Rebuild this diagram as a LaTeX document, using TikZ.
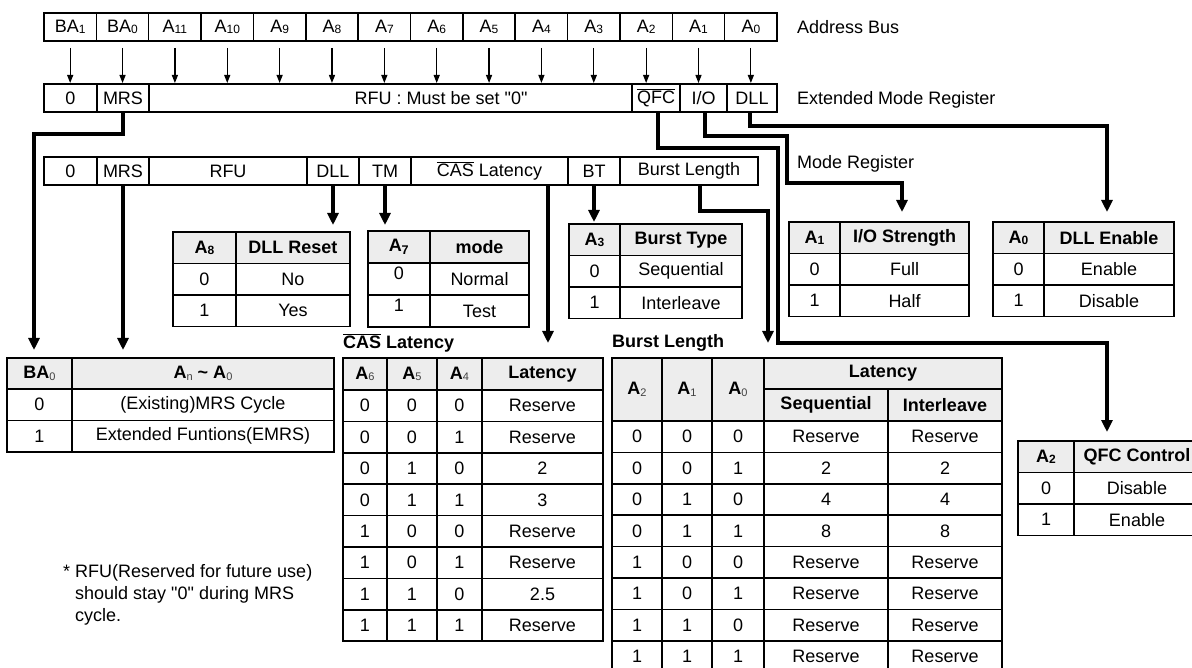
\documentclass[tikz,border=0pt]{standalone}
\usepackage{fontspec}
\setmainfont{Liberation Sans}
\usetikzlibrary{arrows.meta,positioning,calc}
\definecolor{hdrgray}{gray}{0.93}
\newcommand{\sbn}[1]{\raisebox{-1pt}{\fontsize{12}{12}\selectfont #1}}
\newcommand{\hsb}[1]{\raisebox{-1.5pt}{\fontsize{12}{12}\selectfont\bfseries #1}}
\newcommand{\lsb}[1]{\raisebox{-1.5pt}{\fontsize{11}{11}\selectfont\mdseries\color{black!75}#1}}
\newcommand{\ovl}[1]{$\overline{\mbox{#1}}$}
\tikzset{
  txt/.style={font=\fontsize{18}{20}\selectfont},
  regcell/.style={txt,draw,line width=1.5pt,anchor=north west,inner sep=0pt,outer sep=0pt,minimum height=28pt},
  tcell/.style={txt,draw,line width=1.5pt,anchor=north west,inner sep=0pt,outer sep=0pt},
  thead/.style={tcell,fill=hdrgray,font=\fontsize{18}{20}\selectfont\bfseries},
  busarr/.style={line width=1.2pt,-{Triangle[width=6pt,length=8pt]}},
  conn/.style={line width=4pt,line join=miter,-{Triangle[width=11pt,length=12pt]}},
  sidelab/.style={txt,anchor=west,inner sep=0pt},
}
\begin{document}
\begin{tikzpicture}[x=1pt,y=-1pt]
\useasboundingbox (0,0) rectangle (1192,668);
% address bus
\foreach \lab [count=\i from 0] in {BA\sbn1,BA\sbn0,A\sbn{11},A\sbn{10},A\sbn9,A\sbn8,A\sbn7,A\sbn6,A\sbn5,A\sbn4,A\sbn3,A\sbn2,A\sbn1,A\sbn0}
  \node[regcell,minimum width=52.36pt] (ab\i) at ({44+52.36*\i},13) {\lab};
% extended mode register
\foreach \x/\w/\lab [count=\i from 0] in {44/53/0,97/52/MRS,149/483/,632/48/\ovl{QFC},680/47/{I/O},727/50/DLL}
  \node[regcell,minimum width=\w] (em\i) at (\x,84) {\lab};
\node[txt,inner sep=0pt] (emrfu) at (441,98) {RFU : Must be set \textquotedbl 0\textquotedbl};
\foreach \i in {0,...,13}
  \draw[busarr] ([yshift=-7pt]ab\i.south) -- ([yshift=1pt]ab\i.south |- em0.north);
% mode register
\foreach \x/\w/\lab [count=\i from 0] in {44/53/0,97/52/MRS,149/158/RFU,307/52/DLL,359/52/TM,411/157/\ovl{CAS} Latency,568/52/BT,620/138/Burst Length}
  \node[regcell,minimum width=\w] (mr\i) at (\x,157) {\lab};
\node[sidelab] (abl) at (797,27) {Address Bus};
\node[sidelab] (eml) at (797,100) {Extended Mode Register};
\node[sidelab] (mrl) at (797,164) {Mode Register};

% BA0 table
\node[thead,minimum width=65pt,minimum height=31pt] (bah0) at (7,358) {BA\lsb0};
\node[thead,minimum width=262pt,minimum height=31pt] (bah1) at (72,358) {A\lsb{n} \textasciitilde{} A\lsb0};
\foreach \va/\vb [count=\rw] in {0/{(Existing)MRS Cycle},1/{Extended Funtions(EMRS)}}{
  \node[tcell,minimum width=65pt,minimum height=31.5pt] (ba-\rw-0) at (7,{389+31.5*(\rw-1)}) {\va};
  \node[tcell,minimum width=262pt,minimum height=31.5pt] (ba-\rw-1) at (72,{389+31.5*(\rw-1)}) {\vb};
}

% small two-column tables
\foreach \nm/\xa/\xb/\xc/\ya/\hA/\hB/\vA/\vB in {dlr/173/236/350/232/A\hsb8/DLL Reset/No/Yes,
    bt/569/620/742/224/A\hsb3/Burst Type/Sequential/Interleave,
    ios/789/840/969/222/A\hsb1/{I/O Strength}/Full/Half,
    dle/993/1044/1174/222/A\hsb0/DLL Enable/Enable/Disable,
    qfc/1018/1074/1200/441/A\hsb2/QFC Control/Disable/Enable}{
  \node[thead,minimum width={\xb-\xa},minimum height=31.5pt] (\nm-h0) at (\xa,\ya) {\hA};
  \node[thead,minimum width={\xc-\xb},minimum height=31.5pt] (\nm-h1) at (\xb,\ya) {\hB};
  \node[tcell,minimum width={\xb-\xa},minimum height=31.5pt] (\nm-1-0) at (\xa,{\ya+31.5}) {0};
  \node[tcell,minimum width={\xc-\xb},minimum height=31.5pt] (\nm-1-1) at (\xb,{\ya+31.5}) {\vA};
  \node[tcell,minimum width={\xb-\xa},minimum height=31.5pt] (\nm-2-0) at (\xa,{\ya+63}) {1};
  \node[tcell,minimum width={\xc-\xb},minimum height=31.5pt] (\nm-2-1) at (\xb,{\ya+63}) {\vB};
}
% test mode table
\node[thead,minimum width=62pt,minimum height=32pt] (mod-h0) at (368,231) {A\textsubscript{7}};
\node[thead,minimum width=99pt,minimum height=32pt] (mod-h1) at (430,231) {mode};
\node[tcell,minimum width=62pt,minimum height=32pt,label={[txt,yshift=6pt]center:0}] (mod-1-0) at (368,263) {};
\node[tcell,minimum width=99pt,minimum height=32pt] (mod-1-1) at (430,263) {Normal};
\node[tcell,minimum width=62pt,minimum height=32pt,label={[txt,yshift=6pt]center:1}] (mod-2-0) at (368,295) {};
\node[tcell,minimum width=99pt,minimum height=32pt] (mod-2-1) at (430,295) {Test};

% CAS latency table
\node[txt,font=\fontsize{18}{20}\selectfont\bfseries,anchor=west,inner sep=0pt] (castitle) at (343,343) {\ovl{CAS} Latency};
\foreach \x/\w/\lab [count=\i from 0] in {343/44/A\lsb6,387/50/A\lsb5,437/45/A\lsb4,482/121/Latency}
  \node[thead,minimum width=\w,minimum height=32pt] (cas-h\i) at (\x,358) {\lab};
\foreach \va/\vb/\vc/\lat [count=\rw] in {0/0/0/Reserve,0/0/1/Reserve,0/1/0/2,0/1/1/3,1/0/0/Reserve,1/0/1/Reserve,1/1/0/2.5,1/1/1/Reserve}{
  \node[tcell,minimum width=44pt,minimum height=31.4pt] (cas-\rw-0) at (343,{390+31.4*(\rw-1)}) {\va};
  \node[tcell,minimum width=50pt,minimum height=31.4pt] (cas-\rw-1) at (387,{390+31.4*(\rw-1)}) {\vb};
  \node[tcell,minimum width=45pt,minimum height=31.4pt] (cas-\rw-2) at (437,{390+31.4*(\rw-1)}) {\vc};
  \node[tcell,minimum width=121pt,minimum height=31.4pt] (cas-\rw-3) at (482,{390+31.4*(\rw-1)}) {\lat};
}

% burst length table
\node[txt,font=\fontsize{18}{20}\selectfont\bfseries,anchor=west,inner sep=0pt] (bltitle) at (612,343) {Burst Length};
\foreach \x/\w/\lab [count=\i from 0] in {612/50/A\lsb2,662/50/A\lsb1,712/52/A\lsb0}
  \node[thead,minimum width=\w,minimum height=63pt] (bl-h\i) at (\x,358) {\lab};
\node[thead,minimum width=238pt,minimum height=31pt] (bl-h3) at (764,358) {Latency};
\node[thead,minimum width=124pt,minimum height=32pt] (bl-h4) at (764,389) {Sequential};
\node[thead,minimum width=114pt,minimum height=32pt] (bl-h5) at (888,389) {Interleave};
\foreach \va/\vb/\vc/\sq/\il [count=\rw] in {0/0/0/Reserve/Reserve,0/0/1/2/2,0/1/0/4/4,0/1/1/8/8,1/0/0/Reserve/Reserve,1/0/1/Reserve/Reserve,1/1/0/Reserve/Reserve,1/1/1/Reserve/Reserve}{
  \node[tcell,minimum width=50pt,minimum height=31.4pt] (bl-\rw-0) at (612,{421+31.4*(\rw-1)}) {\va};
  \node[tcell,minimum width=50pt,minimum height=31.4pt] (bl-\rw-1) at (662,{421+31.4*(\rw-1)}) {\vb};
  \node[tcell,minimum width=52pt,minimum height=31.4pt] (bl-\rw-2) at (712,{421+31.4*(\rw-1)}) {\vc};
  \node[tcell,minimum width=124pt,minimum height=31.4pt] (bl-\rw-3) at (764,{421+31.4*(\rw-1)}) {\sq};
  \node[tcell,minimum width=114pt,minimum height=31.4pt] (bl-\rw-4) at (888,{421+31.4*(\rw-1)}) {\il};
}

% connectors
\coordinate (bltip) at (768,343);
\coordinate (qfcbend) at (778,343);
\coordinate (qfctip) at (1107,432);
\coordinate (iobend) at (787,183);
\coordinate (iotip) at (902,212);
\coordinate (dletip) at (1107,212);
\draw[conn] (em1.south) -- ++(0,22) -| ([xshift=-5.5pt,yshift=8pt]bah0.north);
\draw[conn] (mr1.south) -- ([yshift=8pt]mr1.south |- bah1.north);
\draw[conn] (mr3.south) -- ([yshift=7pt]mr3.south |- dlr-h1.north);
\draw[conn] (mr4.south) -- ([yshift=6pt]mr4.south |- mod-h0.north);
\draw[conn] ([xshift=58.5pt]mr5.south) -- ([xshift=58.5pt,yshift=15pt]mr5.south |- cas-h3.north);
\draw[conn] (mr6.south) -- ([yshift=2pt]mr6.south |- bt-h0.north);
\draw[conn] ([xshift=11pt]mr7.south) -- ++(0,26) -| (bltip);
\draw[conn] ([xshift=2pt]em3.south) -- ++(0,36) -| (qfcbend) -| (qfctip);
\draw[conn] ([xshift=1.5pt]em4.south) -- ++(0,24) -| (iobend) -| (iotip);
\draw[conn] ([xshift=-2pt]em5.south) -- ++(0,14) -| (dletip);

% footnote
\node[sidelab] (fn1) at (63,573) {* RFU(Reserved for future use)};
\node[sidelab] (fn2) at (75,595) {should stay \textquotedbl 0\textquotedbl{} during MRS};
\node[sidelab] (fn3) at (75,617) {cycle.};
\end{tikzpicture}
\end{document}
